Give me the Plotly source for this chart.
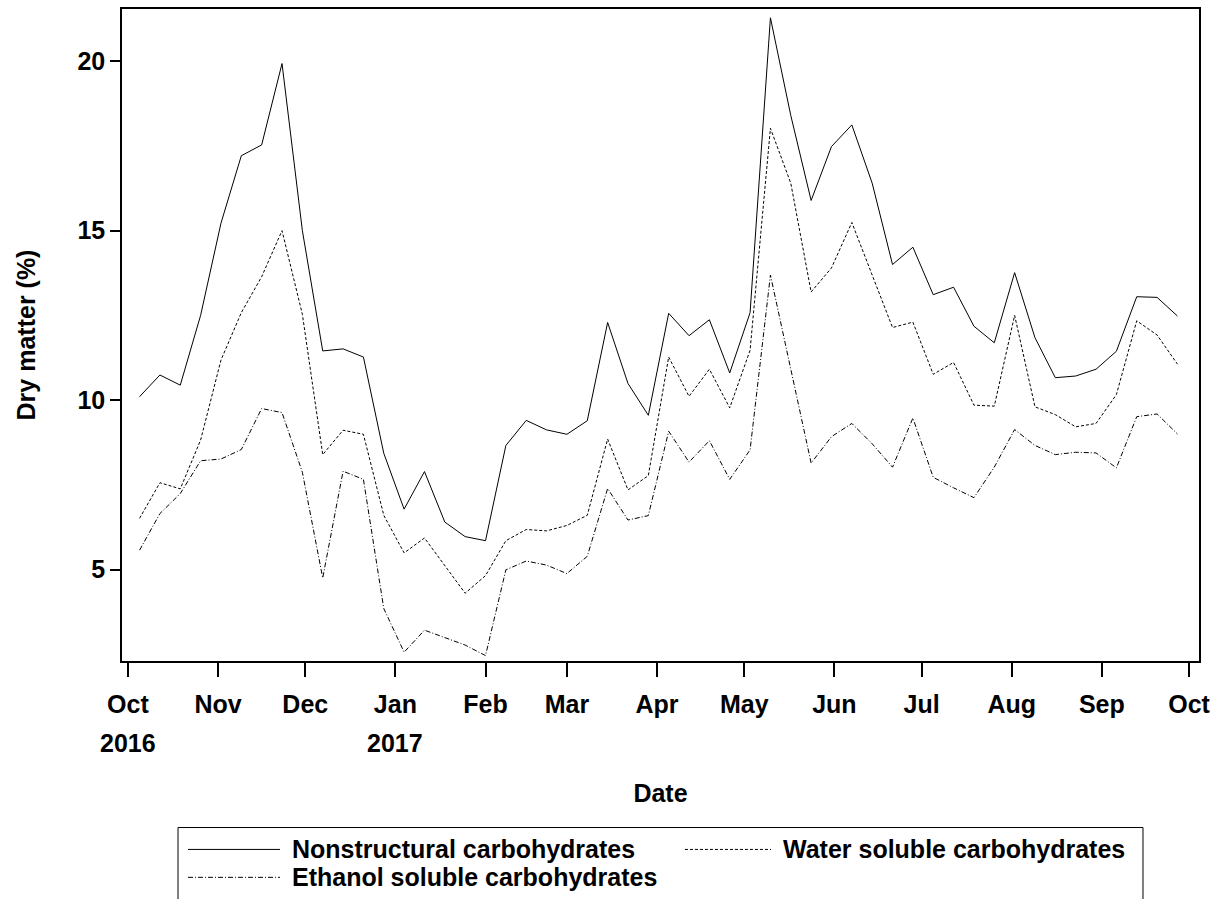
import plotly.graph_objects as go

dates = [
    "2016-10-05", "2016-10-12", "2016-10-19", "2016-10-26", "2016-11-02", "2016-11-09",
    "2016-11-16", "2016-11-23", "2016-11-30", "2016-12-07", "2016-12-14", "2016-12-21",
    "2016-12-28", "2017-01-04", "2017-01-11", "2017-01-18", "2017-01-25", "2017-02-01",
    "2017-02-08", "2017-02-15", "2017-02-22", "2017-03-01", "2017-03-08", "2017-03-15",
    "2017-03-22", "2017-03-29", "2017-04-05", "2017-04-12", "2017-04-19", "2017-04-26",
    "2017-05-03", "2017-05-10", "2017-05-17", "2017-05-24", "2017-05-31", "2017-06-07",
    "2017-06-14", "2017-06-21", "2017-06-28", "2017-07-05", "2017-07-12", "2017-07-19",
    "2017-07-26", "2017-08-02", "2017-08-09", "2017-08-16", "2017-08-23", "2017-08-30",
    "2017-09-06", "2017-09-13", "2017-09-20", "2017-09-27",
]

nonstructural = [
    10.10, 10.74, 10.44, 12.50, 15.22, 17.21, 17.53, 19.93, 15.00, 11.45, 11.51, 11.27,
    8.43, 6.78, 7.89, 6.40, 5.97, 5.85, 8.66, 9.40, 9.12, 8.99, 9.39, 12.29,
    10.49, 9.55, 12.56, 11.90, 12.37, 10.80, 12.58, 21.28, 18.40, 15.89, 17.48, 18.12,
    16.40, 14.00, 14.51, 13.11, 13.33, 12.18, 11.69, 13.76, 11.84, 10.66, 10.71, 10.91,
    11.44, 13.05, 13.03, 12.48,
]
water_soluble = [
    6.51, 7.56, 7.38, 8.82, 11.18, 12.58, 13.64, 15.00, 12.53, 8.39, 9.11, 8.99,
    6.60, 5.49, 5.93, 5.11, 4.30, 4.82, 5.85, 6.18, 6.14, 6.30, 6.60, 8.85,
    7.35, 7.77, 11.27, 10.11, 10.91, 9.77, 11.47, 18.02, 16.40, 13.19, 13.90, 15.24,
    13.70, 12.14, 12.30, 10.76, 11.11, 9.85, 9.82, 12.50, 9.80, 9.57, 9.21, 9.31,
    10.16, 12.34, 11.92, 11.06,
]
ethanol_soluble = [
    5.57, 6.65, 7.24, 8.21, 8.26, 8.54, 9.75, 9.63, 7.87, 4.75, 7.90, 7.66,
    3.85, 2.56, 3.21, 2.99, 2.77, 2.46, 4.99, 5.25, 5.13, 4.88, 5.39, 7.39,
    6.46, 6.59, 9.08, 8.17, 8.80, 7.66, 8.53, 13.69, 10.96, 8.14, 8.92, 9.31,
    8.71, 8.02, 9.47, 7.72, 7.41, 7.12, 8.02, 9.13, 8.66, 8.39, 8.46, 8.44,
    8.00, 9.51, 9.59, 9.00,
]

month_ticks = [
    "2016-10-01", "2016-11-01", "2016-12-01", "2017-01-01", "2017-02-01", "2017-03-01",
    "2017-04-01", "2017-05-01", "2017-06-01", "2017-07-01", "2017-08-01", "2017-09-01",
    "2017-10-01",
]
month_labels = ["Oct", "Nov", "Dec", "Jan", "Feb", "Mar", "Apr", "May", "Jun", "Jul",
                "Aug", "Sep", "Oct"]
year_ticks = ["2016-10-01", "2017-01-01"]
year_labels = ["2016", "2017"]
y_ticks = [5, 10, 15, 20]

series_names = ["Nonstructural carbohydrates", "Water soluble carbohydrates",
                "Ethanol soluble carbohydrates"]
series_values = [nonstructural, water_soluble, ethanol_soluble]
series_dash = ["solid", "3px,2px", "5px,2px,1px,2px"]

FONT = "Liberation Sans, Arial, sans-serif"
fnt = dict(family=FONT, size=25, color="black", weight="bold")

fig = go.Figure()
for name, vals, dash in zip(series_names, series_values, series_dash):
    fig.add_trace(go.Scatter(
        x=dates, y=vals, mode="lines", name=name,
        line=dict(color="black", width=1, dash=dash),
        showlegend=False,
    ))

# year labels under the month ticks
for xv, lab in zip(year_ticks, year_labels):
    fig.add_annotation(x=xv, xref="x", y=-0.1254, yref="paper", text=lab,
                       showarrow=False, font=fnt, xanchor="center", yanchor="middle")

# legend box (drawn below the plot)
fig.add_shape(type="rect", xref="paper", yref="paper", x0=0.052, x1=0.948,
              y0=-0.2554, y1=-0.40, line=dict(color="black", width=1))
legend_pos = [(0.0613, 0.1467, 0.1558, -0.289),
              (0.5227, 0.6026, 0.6120, -0.289),
              (0.0613, 0.1467, 0.1558, -0.3318)]
for (x0, x1, xt, yy), name, dash in zip(legend_pos, series_names, series_dash):
    fig.add_shape(type="line", xref="paper", yref="paper", x0=x0, x1=x1, y0=yy, y1=yy,
                  line=dict(color="black", width=1, dash=dash))
    fig.add_annotation(x=xt, xref="paper", y=yy, yref="paper", text=name,
                       showarrow=False, font=fnt, xanchor="left", yanchor="middle")

fig.update_layout(
    width=1224, height=899,
    margin=dict(l=122, r=25, t=7, b=238),
    paper_bgcolor="white", plot_bgcolor="white",
    font=fnt,
    xaxis=dict(
        type="date", range=["2016-09-28 23:00", "2017-10-04 10:00"],
        tickmode="array", tickvals=month_ticks, ticktext=month_labels,
        ticks="outside", ticklen=14, tickwidth=1.5, tickcolor="black",
        ticklabelstandoff=6,
        showline=True, linecolor="black", linewidth=1.5, mirror=True,
        showgrid=False, zeroline=False, tickfont=fnt,
        title=dict(text="Date", font=fnt, standoff=68),
    ),
    yaxis=dict(
        range=[2.3, 21.54], tickmode="array", tickvals=y_ticks,
        ticks="outside", ticklen=10, tickwidth=1.5, tickcolor="black",
        showline=True, linecolor="black", linewidth=1.5, mirror=True,
        showgrid=False, zeroline=False, tickfont=fnt,
        title=dict(text="Dry matter (%)", font=fnt, standoff=35),
    ),
)

fig.write_html("out.html")
